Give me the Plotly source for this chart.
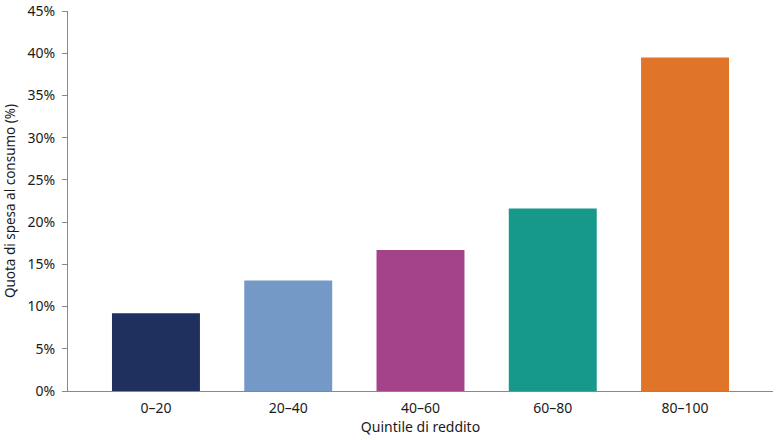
import plotly.graph_objects as go

categories = ["0–20", "20–40", "40–60", "60–80", "80–100"]
values = [9.2, 13.1, 16.7, 21.6, 39.5]
colors = ["#1f2f5e", "#7499c6", "#a4438a", "#16998a", "#e07428"]
y_ticks = [0, 5, 10, 15, 20, 25, 30, 35, 40, 45]
y_labels = [f"{t}%" for t in y_ticks]

fig = go.Figure(go.Bar(
    x=list(range(len(categories))),
    y=values,
    marker=dict(color=colors, line=dict(width=0)),
    width=0.665,
    hoverinfo="skip",
))

font = "Noto Sans, Open Sans, sans-serif"
fig.update_layout(
    width=781, height=440,
    margin=dict(l=68, r=8, t=11, b=49),
    paper_bgcolor="white", plot_bgcolor="white",
    showlegend=False,
    font=dict(family=font, size=14, color="#1a1a1a"),
    xaxis=dict(
        tickmode="array", tickvals=list(range(len(categories))), ticktext=categories,
        range=[-0.665, 4.665], automargin=False,
        showline=True, linecolor="#888", linewidth=1,
        showgrid=False, zeroline=False, ticks="",
        ticklabelstandoff=4,
        title=dict(text="Quintile di reddito", font=dict(size=14), standoff=5),
        tickfont=dict(size=14),
    ),
    yaxis=dict(
        range=[0, 45], tickmode="array", tickvals=y_ticks, ticktext=y_labels,
        automargin=False,
        showline=True, linecolor="#888", linewidth=1,
        showgrid=False, zeroline=False,
        ticks="outside", ticklen=5, tickcolor="#888",
        ticklabelstandoff=4,
        title=dict(text="Quota di spesa al consumo (%)", font=dict(size=13.5), standoff=8),
        tickfont=dict(size=14),
    ),
)

fig.write_html("out.html", config={"displayModeBar": False},
               post_script="document.body.style.margin='0';document.body.style.overflow='hidden';")
